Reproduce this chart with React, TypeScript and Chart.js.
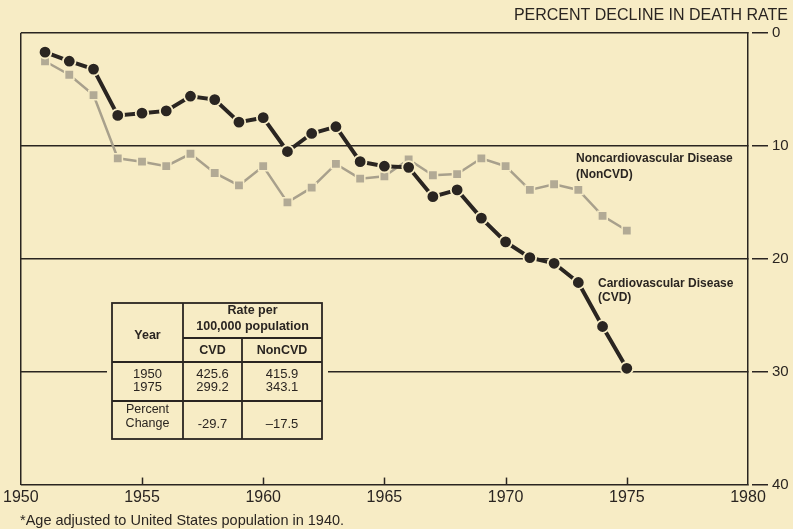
import React, { useEffect, useRef } from "react";
import { Chart, registerables } from "chart.js";

Chart.register(...registerables);

// ---- data ----
const years = [
  1951, 1952, 1953, 1954, 1955, 1956, 1957, 1958, 1959, 1960, 1961, 1962, 1963,
  1964, 1965, 1966, 1967, 1968, 1969, 1970, 1971, 1972, 1973, 1974, 1975,
];
const cvdDecline = [
  1.7, 2.5, 3.2, 7.3, 7.1, 6.9, 5.6, 5.9, 7.9, 7.5, 10.5, 8.9, 8.3, 11.4, 11.8,
  11.9, 14.5, 13.9, 16.4, 18.5, 19.9, 20.4, 22.1, 26.0, 29.7,
];
const nonCvdDecline = [
  2.5, 3.7, 5.5, 11.1, 11.4, 11.8, 10.7, 12.4, 13.5, 11.8, 15.0, 13.7, 11.6,
  12.9, 12.7, 11.2, 12.6, 12.5, 11.1, 11.8, 13.9, 13.4, 13.9, 16.2, 17.5,
];
const xTickYears = [1955, 1960, 1965, 1970, 1975];
const yTickValues = [0, 10, 20, 30, 40];
const tableHeader = ["Year", "Rate per", "100,000 population", "CVD", "NonCVD"];
const tableYears = ["1950", "1975"];
const tableCvd = ["425.6", "299.2"];
const tableNonCvd = ["415.9", "343.1"];
const tableChange = ["-29.7", "\u201317.5"];
const titleText = "PERCENT DECLINE IN DEATH RATE";
const footnoteText = "*Age adjusted to United States population in 1940.";

const BG = "#f7ecc5";
const INK = "#2a2521";
const GRAY = "#a8a08c";
const FONT = "'Liberation Sans', Arial, Helvetica, sans-serif";

export default function App() {
  const ref = useRef<HTMLCanvasElement | null>(null);

  useEffect(() => {
    const canvas = ref.current;
    if (!canvas) return;

    const bgPlugin = {
      id: "bgFill",
      beforeDraw(chart: any) {
        const { ctx, width, height } = chart;
        ctx.save();
        ctx.fillStyle = BG;
        ctx.fillRect(0, 0, width, height);
        ctx.restore();
      },
    };

    const overlayPlugin = {
      id: "overlay",
      afterDraw(chart: any) {
        const { ctx, chartArea } = chart;
        const xs = chart.scales.x;
        const ys = chart.scales.y;
        ctx.save();
        // small gap between right border and outer tick marks
        ctx.fillStyle = BG;
        yTickValues.forEach((v) => {
          const py = ys.getPixelForValue(v);
          ctx.fillRect(chartArea.right + 1, py - 2, 3, 4);
        });
        // inward x ticks
        ctx.strokeStyle = INK;
        ctx.lineWidth = 1.5;
        xTickYears.forEach((v) => {
          const px = Math.round(xs.getPixelForValue(v)) + 0.5;
          ctx.beginPath();
          ctx.moveTo(px, chartArea.bottom);
          ctx.lineTo(px, chartArea.bottom - 7);
          ctx.stroke();
        });

        // series labels
        ctx.fillStyle = INK;
        ctx.textAlign = "left";
        ctx.textBaseline = "alphabetic";
        ctx.font = `bold 12px ${FONT}`;
        ctx.fillText("Noncardiovascular Disease", 576, 162);
        ctx.fillText("(NonCVD)", 576, 178);
        ctx.fillText("Cardiovascular Disease", 598, 287);
        ctx.fillText("(CVD)", 598, 301);

        // table
        const L = 112, R = 322, T = 303, B = 439, C1 = 183, C2 = 242;
        const H1 = 338, H2 = 362, H3 = 401;
        ctx.fillStyle = BG;
        ctx.fillRect(107, 298, 221, 146);
        ctx.strokeStyle = INK;
        ctx.lineWidth = 1.8;
        ctx.strokeRect(L, T, R - L, B - T);
        const line = (x1: number, y1: number, x2: number, y2: number) => {
          ctx.beginPath();
          ctx.moveTo(x1, y1);
          ctx.lineTo(x2, y2);
          ctx.stroke();
        };
        line(C1, T, C1, B);
        line(C2, H1, C2, B);
        line(C1, H1, R, H1);
        line(L, H2, R, H2);
        line(L, H3, R, H3);

        ctx.fillStyle = INK;
        ctx.textAlign = "center";
        ctx.textBaseline = "middle";
        const cY = (L + C1) / 2;
        const cC = (C1 + C2) / 2;
        const cN = (C2 + R) / 2;
        ctx.font = `bold 12.5px ${FONT}`;
        ctx.fillText(tableHeader[0], cY, 336);
        ctx.fillText(tableHeader[1], (C1 + R) / 2, 311);
        ctx.fillText(tableHeader[2], (C1 + R) / 2, 327);
        ctx.fillText(tableHeader[3], cC, 351);
        ctx.fillText(tableHeader[4], cN, 351);
        ctx.font = `13px ${FONT}`;
        tableYears.forEach((t, i) => ctx.fillText(t, cY, 374 + i * 13.5));
        tableCvd.forEach((t, i) => ctx.fillText(t, cC, 374 + i * 13.5));
        tableNonCvd.forEach((t, i) => ctx.fillText(t, cN, 374 + i * 13.5));
        ctx.font = `12.5px ${FONT}`;
        ctx.fillText("Percent", cY, 410);
        ctx.fillText("Change", cY, 424);
        ctx.font = `13px ${FONT}`;
        ctx.fillText(tableChange[0], cC, 424);
        ctx.fillText(tableChange[1], cN, 424);
        ctx.restore();
      },
    };

    const chart = new Chart(canvas, {
      type: "line",
      data: {
        datasets: [
          {
            label: "Cardiovascular Disease (CVD)",
            data: years.map((x, i) => ({ x, y: cvdDecline[i] })),
            borderColor: INK,
            borderWidth: 4,
            pointStyle: "circle",
            pointRadius: 6.3,
            pointBackgroundColor: INK,
            pointBorderColor: BG,
            pointBorderWidth: 1.8,
            tension: 0,
          },
          {
            label: "Noncardiovascular Disease (NonCVD)",
            data: years.map((x, i) => ({ x, y: nonCvdDecline[i] })),
            borderColor: GRAY,
            borderWidth: 2.5,
            pointStyle: "rect",
            pointRadius: 6.6,
            pointBackgroundColor: "#b2aa95",
            pointBorderColor: BG,
            pointBorderWidth: 1.5,
            tension: 0,
          },
        ],
      },
      options: {
        responsive: false,
        animation: false,
        events: [],
        layout: { padding: { left: 20, right: 5, top: 0, bottom: 0 } },
        plugins: {
          legend: { display: false },
          tooltip: { enabled: false },
          title: {
            display: true,
            text: titleText,
            align: "end",
            position: "top",
            color: INK,
            font: { family: FONT, size: 16, weight: "normal", lineHeight: 1 },
            padding: { top: 8, bottom: 9 },
          },
          subtitle: {
            display: true,
            text: footnoteText,
            align: "start",
            position: "bottom",
            color: INK,
            font: { family: FONT, size: 14.5, weight: "normal", lineHeight: 1.1 },
            padding: { top: 6.5, bottom: 0 },
          },
        },
        scales: {
          x: {
            type: "linear",
            min: 1950,
            max: 1980,
            afterFit: (s: any) => {
              s.height = 22;
            },
            border: { display: false },
            grid: {
              drawTicks: false,
              lineWidth: 1.5,
              color: (c: any) =>
                c.tick && c.tick.value === 1950 ? INK : "rgba(0,0,0,0)",
            },
            ticks: {
              stepSize: 5,
              autoSkip: false,
              maxRotation: 0,
              padding: 3,
              color: INK,
              font: { family: FONT, size: 16 },
              callback: (v: any) => String(v),
            },
          },
          y: {
            type: "linear",
            position: "right",
            reverse: true,
            min: 0,
            max: 40,
            afterFit: (s: any) => {
              s.width = 40;
            },
            border: { display: true, color: INK, width: 1.5 },
            grid: {
              color: INK,
              lineWidth: 1.5,
              drawTicks: true,
              tickLength: 20,
              tickColor: INK,
              tickWidth: 1.5,
            },
            ticks: {
              stepSize: 10,
              padding: 4,
              color: INK,
              font: { family: FONT, size: 15 },
            },
          },
        },
      },
      plugins: [bgPlugin, overlayPlugin],
    } as any);

    return () => chart.destroy();
  }, []);

  return (
    <div
      style={{
        position: "fixed",
        left: 0,
        top: 0,
        width: 793,
        height: 529,
        background: BG,
      }}
    >
      <canvas
        ref={ref}
        width={793}
        height={529}
        style={{ width: 793, height: 529, display: "block" }}
      />
    </div>
  );
}
